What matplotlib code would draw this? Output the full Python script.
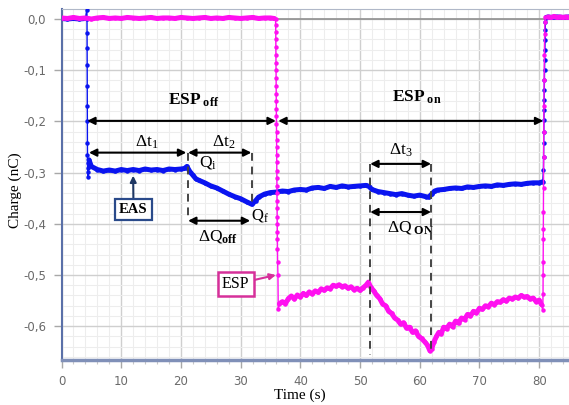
import numpy as np
import matplotlib.pyplot as plt
from matplotlib.ticker import MultipleLocator, FuncFormatter

plt.rcParams['mathtext.fontset'] = 'custom'
plt.rcParams['mathtext.rm'] = 'Liberation Serif'
plt.rcParams['mathtext.it'] = 'Liberation Serif:italic'
plt.rcParams['mathtext.bf'] = 'Liberation Serif:bold'

# EAS trace (blue), time in s, charge in nC
eas_t = [0, 1, 2, 3, 4, 4.25, 4.27, 4.28, 4.29, 4.30, 4.31, 4.32, 4.33, 4.34, 4.35,
         4.36, 4.37, 4.39, 4.42, 4.6, 5, 6, 7, 8, 9, 10, 11, 12, 13, 14, 15, 16,
         17, 18, 19, 20, 20.6, 21.0, 21.5, 22, 22.5, 23, 24, 25, 26, 27, 28, 29,
         30, 31, 31.9, 32.5, 33, 34, 35, 36, 37, 38, 39, 40, 41, 42, 43, 44, 45,
         46, 47, 48, 49, 50, 51, 51.5, 52, 53, 54, 55, 56, 57, 58, 59, 60, 61,
         61.5, 62, 62.5, 63, 64, 65, 66, 67, 68, 69, 70, 71, 72, 73, 74, 75, 76,
         77, 78, 79, 80, 80.6, 80.72, 80.74, 80.76, 80.78, 80.80, 80.82, 80.84,
         80.86, 80.88, 80.90, 80.93, 80.96, 80.99, 81.02, 81.05, 81.1, 81.2,
         81.5, 82, 83, 84, 85]
eas_q = [0.001, 0.000, 0.001, 0.000, 0.001, 0.018, 0.000, -0.027, -0.057, -0.090,
         -0.131, -0.170, -0.200, -0.242, -0.266, -0.281, -0.291, -0.299, -0.309,
         -0.275, -0.288, -0.294, -0.297, -0.295, -0.297, -0.294, -0.296, -0.294,
         -0.296, -0.293, -0.295, -0.294, -0.296, -0.293, -0.294, -0.293, -0.292,
         -0.288, -0.298, -0.305, -0.312, -0.315, -0.320, -0.326, -0.330, -0.336,
         -0.342, -0.347, -0.351, -0.357, -0.362, -0.355, -0.348, -0.342, -0.339,
         -0.338, -0.336, -0.337, -0.334, -0.333, -0.334, -0.330, -0.329, -0.331,
         -0.327, -0.329, -0.326, -0.328, -0.327, -0.326, -0.325, -0.327, -0.333,
         -0.337, -0.339, -0.341, -0.343, -0.341, -0.344, -0.346, -0.344, -0.347,
         -0.348, -0.342, -0.336, -0.334, -0.333, -0.331, -0.330, -0.331, -0.328,
         -0.329, -0.327, -0.326, -0.327, -0.324, -0.325, -0.323, -0.322, -0.323,
         -0.321, -0.320, -0.320, -0.318, -0.295, -0.270, -0.242, -0.221, -0.197,
         -0.178, -0.158, -0.139, -0.119, -0.100, -0.080, -0.060, -0.041, -0.021,
         -0.006, 0.002, 0.003, 0.004, 0.003, 0.004, 0.003, 0.004]

# ESP trace (magenta)
esp_t = [0, 1, 2, 3, 4, 5, 6, 7, 8, 9, 10, 11, 12, 13, 14, 15, 16, 17, 18, 19,
         20, 21, 22, 23, 24, 25, 26, 27, 28, 29, 30, 31, 32, 33, 34, 35, 35.6,
         35.85, 35.87, 35.88, 35.89, 35.90, 35.91, 35.92, 35.93, 35.94, 35.95,
         35.96, 35.97, 35.98, 35.99, 36.00, 36.01, 36.02, 36.03, 36.04, 36.05,
         36.06, 36.07, 36.08, 36.09, 36.10, 36.11, 36.12, 36.13, 36.14, 36.15,
         36.17, 36.20, 36.25, 36.3,
         36.5, 37.0, 37.5, 38.0, 38.5, 39.0, 39.5, 40.0, 40.5, 41.0, 41.5, 42.0,
         42.5, 43.0, 43.5, 44.0, 44.5, 45.0, 45.5, 46.0, 46.5, 47.0, 47.5, 48.0,
         48.5, 49.0, 49.5, 50.0, 50.5, 51.0, 51.4, 51.8, 52.3, 52.8, 53.3, 53.8,
         54.3, 54.8, 55.3, 55.8, 56.3, 56.8, 57.3, 57.8, 58.3, 58.8, 59.3, 59.8,
         60.3, 60.8, 61.3, 61.7, 62.0, 62.4, 62.8, 63.2, 63.6, 64.0, 64.5, 65.0,
         65.5, 66.0, 66.5, 67.0, 67.5, 68.0, 68.5, 69.0, 69.5, 70.0, 70.5, 71.0,
         71.5, 72.0, 72.5, 73.0, 73.5, 74.0, 74.5, 75.0, 75.5, 76.0, 76.5, 77.0,
         77.5, 78.0, 78.5, 79.0, 79.5, 80.0, 80.4, 80.6, 80.65,
         80.67, 80.68, 80.69, 80.70, 80.71, 80.73, 80.75, 80.77, 80.80, 80.83,
         80.87, 80.92, 80.97, 81.05, 81.5, 82, 82.5, 83, 83.5, 84, 84.5, 85]
esp_q = [0.002, 0.001, 0.003, 0.001, 0.002, 0.000, 0.002, 0.003, 0.001, 0.002,
         0.001, 0.003, 0.002, 0.001, 0.002, 0.003, 0.001, 0.002, 0.002, 0.001,
         0.003, 0.002, 0.001, 0.002, 0.003, 0.001, 0.002, 0.001, 0.003, 0.002,
         0.001, 0.002, 0.003, 0.001, 0.002, 0.002, 0.001,
         0.000, -0.012, -0.025, -0.040, -0.055, -0.070, -0.086, -0.100, -0.116,
         -0.130, -0.146, -0.160, -0.176, -0.190, -0.206, -0.220, -0.236, -0.250,
         -0.266, -0.280, -0.296, -0.310, -0.326, -0.340, -0.356, -0.370, -0.386,
         -0.400, -0.416, -0.430, -0.450, -0.475, -0.500, -0.566,
         -0.556, -0.552, -0.556, -0.546, -0.541, -0.547, -0.539, -0.543, -0.536,
         -0.540, -0.533, -0.537, -0.531, -0.534, -0.527, -0.530, -0.525, -0.527,
         -0.520, -0.522, -0.519, -0.523, -0.521, -0.526, -0.523, -0.529, -0.526,
         -0.530, -0.525, -0.520, -0.514, -0.524, -0.531, -0.540, -0.546, -0.557,
         -0.560, -0.571, -0.575, -0.584, -0.588, -0.596, -0.593, -0.604, -0.602,
         -0.612, -0.609, -0.620, -0.624, -0.630, -0.637, -0.648, -0.644, -0.630,
         -0.620, -0.612, -0.615, -0.602, -0.605, -0.596, -0.601, -0.590, -0.594,
         -0.584, -0.587, -0.577, -0.580, -0.571, -0.574, -0.565, -0.567, -0.560,
         -0.562, -0.555, -0.558, -0.552, -0.553, -0.548, -0.551, -0.545, -0.547,
         -0.543, -0.545, -0.540, -0.543, -0.542, -0.547, -0.545, -0.552, -0.549,
         -0.558, -0.569, -0.538,
         -0.500, -0.475, -0.430, -0.410, -0.377, -0.330, -0.270, -0.220, -0.170,
         -0.120, -0.070, -0.030, -0.005, 0.003, 0.004, 0.003, 0.005, 0.003, 0.004,
         0.003, 0.004, 0.003]

xticks = [0, 10, 20, 30, 40, 50, 60, 70, 80]
yticks = [0.0, -0.1, -0.2, -0.3, -0.4, -0.5, -0.6]


def comma_label(v, pos):
    s = f"{abs(round(v, 1)):.1f}".replace('.', ',')
    return '-' + s if round(v, 1) < 0 else s


fig = plt.figure(figsize=(5.69, 4.05), dpi=100)
ax = fig.add_axes([61.5 / 569, 45 / 405, 507.5 / 569, 351 / 405])
ax.set_xlim(0, 85)
ax.set_ylim(-0.666, 0.0195)

ax.set_xticks(xticks)
ax.set_yticks(yticks)
ax.xaxis.set_minor_locator(MultipleLocator(2))
ax.yaxis.set_minor_locator(MultipleLocator(0.02))
ax.yaxis.set_major_formatter(FuncFormatter(comma_label))
ax.tick_params(which='major', direction='out', length=6, width=1, color='#a8a8a8',
               labelcolor='#6a6a6a', labelsize=8.5, pad=5)
ax.tick_params(which='minor', direction='out', length=3, width=0.8, color='#c8c8c8')
ax.tick_params(axis='y', which='minor', length=0)
ax.grid(which='major', color='#cfcfcf', lw=1)
ax.grid(which='minor', color='#ededed', lw=0.8)
ax.axhline(0, color='#909090', lw=1.2, zorder=1)
ax.set_axisbelow(True)

ax.spines['right'].set_visible(False)
ax.spines['top'].set_color('#b0b8c8')
ax.spines['left'].set_color('#5a70a8')
ax.spines['left'].set_linewidth(1.5)
ax.spines['bottom'].set_color('#8090b8')
ax.spines['bottom'].set_linewidth(2.5)


def draw_trace(t, q, color, z):
    t = np.asarray(t)
    q = np.asarray(q)
    gap = np.diff(t)
    near = np.minimum(np.r_[np.inf, gap], np.r_[gap, np.inf])
    body = np.ma.masked_where(near < 0.1, q)
    ax.plot(t, body, color=color, lw=3.6, solid_capstyle='round', zorder=z)
    ax.plot(t, q, color=color, lw=1.0, marker='o', ms=3.2, mew=0, zorder=z)


draw_trace(eas_t, eas_q, '#0a14f0', 3)
draw_trace(esp_t, esp_q, '#ff10f0', 4)

serif = 'Liberation Serif'


def double_arrow(t0, t1, q):
    ax.annotate('', xy=(t1, q), xytext=(t0, q),
                arrowprops=dict(arrowstyle='<|-|>', color='black', lw=1.5,
                                mutation_scale=11, shrinkA=0, shrinkB=0), zorder=6)


def dashed(t, q0, q1):
    ax.plot([t, t], [q0, q1], color='#444444', lw=1.4, ls=(0, (4, 3)), zorder=5)


# ESP off / on periods
double_arrow(4.3, 35.9, -0.199)
double_arrow(36.3, 80.7, -0.199)
ax.text(22.1, -0.158, r'$\mathbf{ESP}_{\ \mathbf{off}}$', fontsize=12.5, ha='center', va='center')
ax.text(59.5, -0.153, r'$\mathbf{ESP}_{\ \mathbf{on}}$', fontsize=12.5, ha='center', va='center')

# EAS off-state intervals
double_arrow(4.6, 20.9, -0.261)
double_arrow(21.2, 31.8, -0.261)
dashed(21.2, -0.261, -0.392)
dashed(31.9, -0.261, -0.362)
double_arrow(21.2, 31.6, -0.394)
ax.text(14.3, -0.24, r'$\Delta\mathrm{t}_1$', fontsize=12.5, ha='center', va='center')
ax.text(27.1, -0.24, r'$\Delta\mathrm{t}_2$', fontsize=12.5, ha='center', va='center')
ax.text(24.6, -0.279, r'$\mathrm{Q}_\mathrm{i}$', fontsize=12.5, ha='center', va='center')
ax.text(33.3, -0.383, r'$\mathrm{Q}_\mathrm{f}$', fontsize=12, ha='center', va='center')
ax.text(26.3, -0.424, r'$\Delta\mathrm{Q}_{\mathbf{off}}$', fontsize=12.5, ha='center', va='center')

# EAS on-state interval
double_arrow(51.7, 61.9, -0.283)
double_arrow(51.7, 61.9, -0.377)
dashed(51.6, -0.283, -0.656)
dashed(61.9, -0.283, -0.650)
ax.text(56.9, -0.256, r'$\Delta\mathrm{t}_3$', fontsize=12.5, ha='center', va='center')
ax.text(58.4, -0.406, r'$\Delta\mathrm{Q}_{\ \mathbf{ON}}$', fontsize=12.5, ha='center', va='center')

# trace labels
ax.annotate('EAS', xy=(12.0, -0.306), xytext=(12.06, -0.372), fontsize=10.5,
            fontweight='bold', family=serif, ha='center', va='center',
            bbox=dict(boxstyle='square,pad=0.3', fc='white', ec='#2a4a8a', lw=1.6),
            arrowprops=dict(arrowstyle='-|>', color='#1f3864', lw=1.5, mutation_scale=9,
                            shrinkA=0, shrinkB=0), zorder=7)
ax.annotate('ESP', xy=(35.9, -0.500), xytext=(29.2, -0.518), fontsize=11.5,
            family=serif, ha='center', va='center',
            bbox=dict(boxstyle='square,pad=0.25', fc='white', ec='#d6309a', lw=1.8),
            arrowprops=dict(arrowstyle='-|>', color='#d6309a', lw=1.5, mutation_scale=9,
                            shrinkA=0, shrinkB=0), zorder=7)

fig.text(0.527, 0.024, 'Time (s)', family=serif, fontsize=11, ha='center', va='center')
fig.text(0.026, 0.531, 'Charge (nC)', family=serif, fontsize=11, rotation=90,
         ha='center', va='center')

fig.savefig('out.png', dpi=100)
